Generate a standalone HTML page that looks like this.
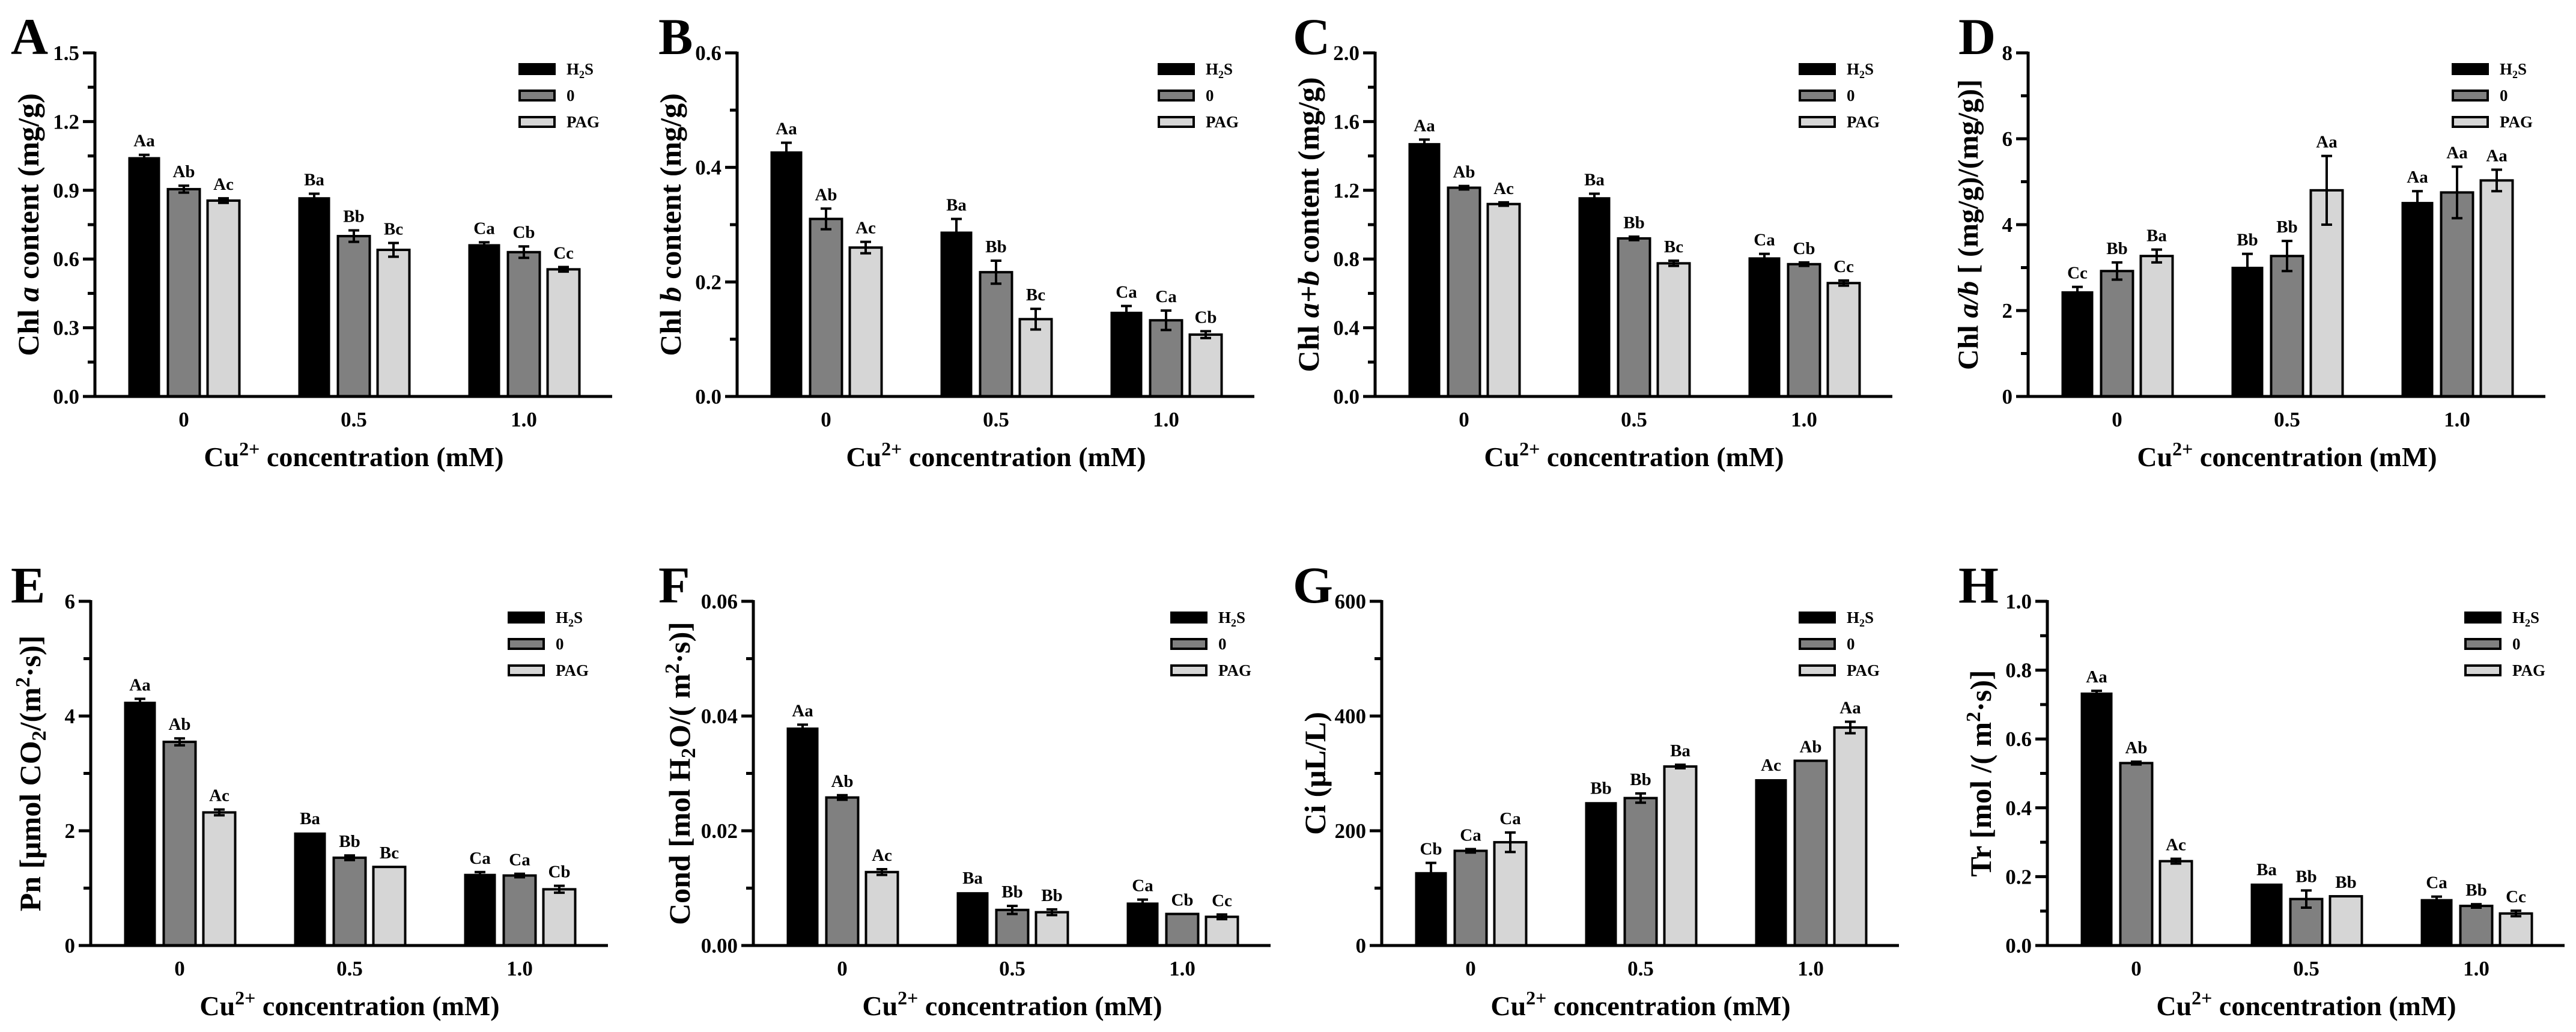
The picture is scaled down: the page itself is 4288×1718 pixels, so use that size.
<!DOCTYPE html>
<html><head><meta charset="utf-8"><style>
html,body{margin:0;padding:0;background:#fff;}
svg text{font-family:"Liberation Serif","Times New Roman",serif;font-weight:bold;fill:#000;}
</style></head><body>
<svg id="fig" xmlns="http://www.w3.org/2000/svg" width="4288" height="1713" viewBox="0 0 4288 1713" font-family="Liberation Serif, serif" font-weight="bold"></svg>
<script>
const categories = ["0","0.5","1.0"];
const seriesNames = ["H2S","0","PAG"];
// Panel A
const A_h2s=[1.045,0.87,0.665], A_zero=[0.905,0.70,0.63], A_pag=[0.855,0.64,0.555];
const A_errH2s=[0.01,0.015,0.008], A_errZero=[0.015,0.025,0.025], A_errPag=[0.01,0.03,0.01];
const A_letters=[["Aa","Ba","Ca"],["Ab","Bb","Cb"],["Ac","Bc","Cc"]];
const A_ticks=["0.0","0.3","0.6","0.9","1.2","1.5"];
// Panel B
const B_h2s=[0.428,0.288,0.148], B_zero=[0.31,0.217,0.133], B_pag=[0.26,0.135,0.108];
const B_errH2s=[0.015,0.022,0.01], B_errZero=[0.018,0.02,0.017], B_errPag=[0.01,0.018,0.006];
const B_letters=[["Aa","Ba","Ca"],["Ab","Bb","Ca"],["Ac","Bc","Cb"]];
const B_ticks=["0.0","0.2","0.4","0.6"];
// Panel C
const C_h2s=[1.475,1.16,0.81], C_zero=[1.215,0.92,0.77], C_pag=[1.12,0.775,0.66];
const C_errH2s=[0.02,0.02,0.02], C_errZero=[0.01,0.01,0.01], C_errPag=[0.01,0.015,0.015];
const C_letters=[["Aa","Ba","Ca"],["Ab","Bb","Cb"],["Ac","Bc","Cc"]];
const C_ticks=["0.0","0.4","0.8","1.2","1.6","2.0"];
// Panel D
const D_h2s=[2.45,3.02,4.53], D_zero=[2.92,3.27,4.75], D_pag=[3.27,4.8,5.03];
const D_errH2s=[0.1,0.3,0.25], D_errZero=[0.2,0.35,0.6], D_errPag=[0.15,0.8,0.25];
const D_letters=[["Cc","Bb","Aa"],["Bb","Bb","Aa"],["Ba","Aa","Aa"]];
const D_ticks=["0","2","4","6","8"];
// Panel E
const E_h2s=[4.25,1.97,1.25], E_zero=[3.55,1.53,1.22], E_pag=[2.32,1.37,0.98];
const E_errH2s=[0.05,0,0.03], E_errZero=[0.06,0.04,0.03], E_errPag=[0.05,0,0.06];
const E_letters=[["Aa","Ba","Ca"],["Ab","Bb","Ca"],["Ac","Bc","Cb"]];
const E_ticks=["0","2","4","6"];
// Panel F
const F_h2s=[0.038,0.0093,0.0075], F_zero=[0.0258,0.0062,0.0055], F_pag=[0.0128,0.0058,0.005];
const F_errH2s=[0.0005,0,0.0005], F_errZero=[0.0004,0.0007,0], F_errPag=[0.0005,0.0005,0.0004];
const F_letters=[["Aa","Ba","Ca"],["Ab","Bb","Cb"],["Ac","Bb","Cc"]];
const F_ticks=["0.00","0.02","0.04","0.06"];
// Panel G
const G_h2s=[128,250,290], G_zero=[165,257,322], G_pag=[180,312,380];
const G_errH2s=[16,0,0], G_errZero=[3,8,0], G_errPag=[17,3,10];
const G_letters=[["Cb","Bb","Ac"],["Ca","Bb","Ab"],["Ca","Ba","Aa"]];
const G_ticks=["0","200","400","600"];
// Panel H
const H_h2s=[0.735,0.18,0.135], H_zero=[0.53,0.135,0.115], H_pag=[0.245,0.143,0.093];
const H_errH2s=[0.005,0,0.007], H_errZero=[0.004,0.025,0.005], H_errPag=[0.007,0,0.008];
const H_letters=[["Aa","Ba","Ca"],["Ab","Bb","Bb"],["Ac","Bb","Cc"]];
const H_ticks=["0.0","0.2","0.4","0.6","0.8","1.0"];

const NS="http://www.w3.org/2000/svg";
const svg=document.getElementById('fig');
function mk(tag,attrs,parent){const e=document.createElementNS(NS,tag);for(const k in attrs)e.setAttribute(k,attrs[k]);(parent||svg).appendChild(e);return e;}
const fills=["#000000","#808080","#d6d6d6"];

function panel(cfg){
  const g=mk('g',{});
  
  
  const x0=cfg.ax, top=cfg.top, base=cfg.base, W=861;
  const ymax=parseFloat(cfg.ticks[cfg.ticks.length-1]);
  const y=v=>base-(v/ymax)*(base-top);
  const xc=i=>x0+148+i*283;
  const L=mk('text',{x:cfg.lx,y:top+2,'font-size':86},g);L.textContent=cfg.id;
  
  
  const vals=[cfg.s[0],cfg.s[1],cfg.s[2]], errs=[cfg.e[0],cfg.e[1],cfg.e[2]];
  for(let s=0;s<3;s++){for(let i=0;i<3;i++){
    const cx=xc(i)+(s-1)*66, v=vals[s][i], yy=y(v);
    const r=mk('rect',{x:cx-26.5,y:yy,width:53,height:base-yy,fill:fills[s],stroke:'#000','stroke-width':s===0?0:4},g);
    
    
    const ev=errs[s][i];
    if(ev>0){
      const eg=mk('g',{stroke:'#000','stroke-width':4},g);
      
      
      mk('line',{x1:cx,x2:cx,y1:y(v+ev),y2:y(v-ev)},eg);
      mk('line',{x1:cx-9,x2:cx+9,y1:y(v+ev),y2:y(v+ev)},eg);
      mk('line',{x1:cx-9,x2:cx+9,y1:y(v-ev),y2:y(v-ev)},eg);
    }
    const t=mk('text',{x:cx,y:y(v+ev)-14,'font-size':29,'text-anchor':'middle'},g);
    t.textContent=cfg.letters[s][i];
    
    
  }}
  const ax=mk('g',{stroke:'#000','stroke-width':5},g);
  
  
  mk('line',{x1:x0,x2:x0,y1:top-2,y2:base+2.5},ax);
  mk('line',{x1:x0-2.5,x2:x0+W,y1:base,y2:base},ax);
  const n=cfg.ticks.length;
  for(let k=0;k<n;k++){
    const v=parseFloat(cfg.ticks[k]), yy=y(v);
    mk('line',{x1:x0-20,x2:x0,y1:yy,y2:yy},ax);
    if(k<n-1){const ym=y(v+ymax/(n-1)/2);mk('line',{x1:x0-12,x2:x0,y1:ym,y2:ym},ax);}
    const t=mk('text',{x:x0-26,y:yy+12,'font-size':35,'text-anchor':'end'},g);
    t.textContent=cfg.ticks[k];
    
    
  }
  for(let i=0;i<3;i++){
    const t=mk('text',{x:xc(i),y:base+50,'font-size':35,'text-anchor':'middle'},g);
    t.textContent=categories[i];
    
    
  }
  const xt=mk('text',{x:xc(1),y:base+116,'font-size':46,'text-anchor':'middle'},g);
  xt.innerHTML='Cu<tspan dy="-18" font-size="32">2+</tspan><tspan dy="18"> concentration (mM)</tspan>';
  
  
  const yt=mk('text',{x:0,y:0,'font-size':cfg.yfs||50,'text-anchor':'middle',transform:`translate(${x0-(cfg.yoff||94)},${(top+base)/2}) rotate(-90)`},g);
  yt.innerHTML=cfg.ytitle;
  
  
  const lg=mk('g',{},g);
  
  
  const lx=x0+cfg.legx;
  const labs=['H<tspan font-size="18" dy="6">2</tspan><tspan dy="-6">S</tspan>','0','PAG'];
  for(let s=0;s<3;s++){
    const ly=top+17+s*44;
    const r=mk('rect',{x:lx+(s?2:0),y:ly+(s?2:0),width:s?58:62,height:s?16:20,fill:fills[s],stroke:'#000','stroke-width':s?4:0},lg);
    
    
    const t=mk('text',{x:lx+80,y:ly+19,'font-size':27},lg);
    t.innerHTML=labs[s];
    
    
  }
}
const T=88,BT=660,T2=1001,BB=1574;
panel({id:'A',ax:158,top:T,base:BT,lx:18,legx:705,ticks:A_ticks,s:[A_h2s,A_zero,A_pag],e:[A_errH2s,A_errZero,A_errPag],letters:A_letters,ytitle:'Chl <tspan font-style="italic">a</tspan> content (mg/g)'});
panel({id:'B',ax:1227,top:T,base:BT,lx:1096,legx:700,ticks:B_ticks,s:[B_h2s,B_zero,B_pag],e:[B_errH2s,B_errZero,B_errPag],letters:B_letters,ytitle:'Chl <tspan font-style="italic">b</tspan> content (mg/g)'});
panel({id:'C',ax:2289,top:T,base:BT,lx:2152,legx:705,ticks:C_ticks,s:[C_h2s,C_zero,C_pag],e:[C_errH2s,C_errZero,C_errPag],letters:C_letters,ytitle:'Chl <tspan font-style="italic">a+b</tspan> content (mg/g)'});
panel({id:'D',ax:3376,top:T,base:BT,lx:3260,legx:705,ticks:D_ticks,s:[D_h2s,D_zero,D_pag],e:[D_errH2s,D_errZero,D_errPag],letters:D_letters,yfs:48,yoff:84,ytitle:'Chl <tspan font-style="italic">a/b</tspan> [ (mg/g)/(mg/g)]'});
panel({id:'E',ax:151,top:T2,base:BB,lx:18,legx:694,ticks:E_ticks,s:[E_h2s,E_zero,E_pag],e:[E_errH2s,E_errZero,E_errPag],letters:E_letters,yoff:84,ytitle:'Pn [μmol CO<tspan font-size="34" dy="9">2</tspan><tspan dy="-9">/(m</tspan><tspan font-size="34" dy="-18">2</tspan><tspan dy="18">·s)]</tspan>'});
panel({id:'F',ax:1254,top:T2,base:BB,lx:1096,legx:694,ticks:F_ticks,s:[F_h2s,F_zero,F_pag],e:[F_errH2s,F_errZero,F_errPag],letters:F_letters,yoff:106,ytitle:'Cond [mol H<tspan font-size="34" dy="9">2</tspan><tspan dy="-9">O/( m</tspan><tspan font-size="34" dy="-18">2</tspan><tspan dy="18">·s)]</tspan>'});
panel({id:'G',ax:2300,top:T2,base:BB,lx:2152,legx:694,ticks:G_ticks,s:[G_h2s,G_zero,G_pag],e:[G_errH2s,G_errZero,G_errPag],letters:G_letters,ytitle:'Ci (μL/L)'});
panel({id:'H',ax:3408,top:T2,base:BB,lx:3260,legx:694,ticks:H_ticks,s:[H_h2s,H_zero,H_pag],e:[H_errH2s,H_errZero,H_errPag],letters:H_letters,ytitle:'Tr [mol /( m<tspan font-size="34" dy="-18">2</tspan><tspan dy="18">·s)]</tspan>'});
</script>
</body></html>
